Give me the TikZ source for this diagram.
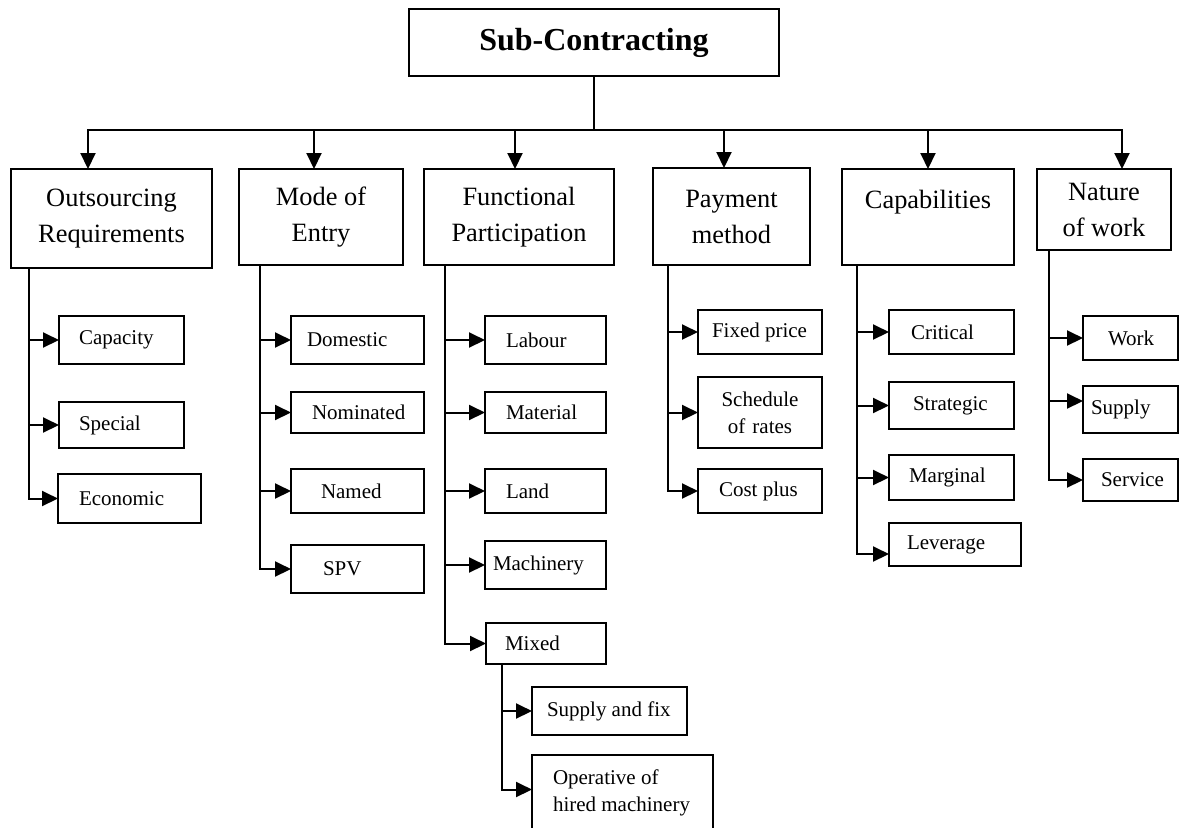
\documentclass[tikz,border=0pt]{standalone}
\usepackage{fontspec}
\setmainfont{Liberation Serif}
\usetikzlibrary{arrows.meta}
\tikzstyle{topbox} = [draw, line width=1pt, anchor=north west, outer sep=0pt, inner sep=0pt, align=center, font=\fontsize{13.2}{18}\selectfont]
\tikzstyle{leaf} = [draw, line width=1pt, anchor=north west, outer sep=0pt, inner sep=0pt, align=left, font=\fontsize{10.5}{13.5}\selectfont, execute at begin node={\spaceskip=0pt\xspaceskip=0pt\relax}]
\tikzstyle{line} = [draw, line width=1pt, line cap=rect]
\tikzstyle{arr} = [draw, line width=1pt, -{Triangle[length=8pt, width=7.5pt]}]
\tikzset{ind/.style={execute at begin node={\leftskip=#1\relax}}}

\begin{document}
\begin{tikzpicture}[x=0.5pt, y=-0.5pt]
			\useasboundingbox (0,0) rectangle (1179,827);
			% root and first level
			\node [topbox, font=\fontsize{16}{19}\selectfont\bfseries, minimum width=185pt, minimum height=33.5pt] (sub) at (409,9) {Sub-Contracting};
			\node [topbox, minimum width=100.5pt, minimum height=49.5pt] (outs) at (11,169) {Outsourcing\\Requirements};
			\node [topbox, minimum width=82pt, minimum height=48pt] (mode) at (239,169) {Mode of\\Entry};
			\node [topbox, minimum width=95pt, minimum height=48pt] (func) at (424,169) {Functional\\Participation};
			\node [topbox, minimum width=78.5pt, minimum height=48.5pt] (pay) at (653,168) {Payment\\method};
			\node [topbox, minimum width=86pt, minimum height=48pt] (capab) at (842,169) {Capabilities\\\mbox{}};
			\node [topbox, minimum width=67pt, minimum height=40.5pt] (nat) at (1037,169) {Nature\\of work};
			
			\coordinate (b1) at (88,130);
			\coordinate (b2) at (314,130);
			\coordinate (b3) at (515,130);
			\coordinate (b4) at (724,130);
			\coordinate (b5) at (928,130);
			\coordinate (b6) at (1122,130);
			
			\path [line, line width=0.8pt] (sub.south) -- (sub.south |- b1);
			\path [line] (b1) -- (b6);
			\path [arr] (b1) -- (b1 |- outs.north);
			\path [arr] (b2) -- (b2 |- mode.north);
			\path [arr] (b3) -- (b3 |- func.north);
			\path [arr] (b4) -- (b4 |- pay.north);
			\path [arr] (b5) -- (b5 |- capab.north);
			\path [arr] (b6) -- (b6 |- nat.north);
			
			% outsourcing requirements
			\node [leaf, text width=62.5pt, minimum height=24pt, ind=10pt] (cap) at (59,316) {Capacity};
			\node [leaf, text width=62.5pt, minimum height=23pt, ind=10pt] (spec) at (59,402) {Special};
			\node [leaf, text width=71.5pt, minimum height=24.5pt, ind=10.5pt] (econ) at (58,474) {Economic};
			
			\coordinate (t1) at (29,268);
			\path [arr] (t1) |- (econ.west);
			\path [arr] (t1 |- cap.west) -- (cap.west);
			\path [arr] (t1 |- spec.west) -- (spec.west);
			
			% mode of entry
			\node [leaf, text width=66.5pt, minimum height=24pt, ind=8pt] (dom) at (291,316) {Domestic};
			\node [leaf, text width=66.5pt, minimum height=20.5pt, ind=10.5pt] (nom) at (291,392) {Nominated};
			\node [leaf, text width=66.5pt, minimum height=22pt, ind=15pt] (named) at (291,469) {Named};
			\node [leaf, text width=66.5pt, minimum height=24pt, ind=16pt] (spv) at (291,545) {SPV};
			
			\coordinate (t2) at (260,265);
			\path [arr] (t2) |- (spv.west);
			\path [arr] (t2 |- dom.west) -- (dom.west);
			\path [arr] (t2 |- nom.west) -- (nom.west);
			\path [arr] (t2 |- named.west) -- (named.west);
			
			% functional participation
			\node [leaf, text width=60.5pt, minimum height=24pt, ind=10.5pt] (lab) at (485,316) {Labour};
			\node [leaf, text width=60.5pt, minimum height=20.5pt, ind=10.5pt] (mat) at (485,392) {Material};
			\node [leaf, text width=60.5pt, minimum height=22pt, ind=10.5pt] (land) at (485,469) {Land};
			\node [leaf, text width=60.5pt, minimum height=24pt, ind=4pt] (mach) at (485,541) {Machinery};
			\node [leaf, text width=60pt, minimum height=20.5pt, ind=9.5pt] (mix) at (486,623) {Mixed};
			\node [leaf, text width=77.5pt, minimum height=24pt, ind=7.5pt] (fix) at (532,687) {Supply and fix};
			\node [leaf, text width=90.5pt, minimum height=37.5pt, ind=10.5pt] (oper) at (532,755) {Operative of\\hired machinery};
			
			\coordinate (t3) at (445,265);
			\path [arr] (t3) |- (mix.west);
			\path [arr] (t3 |- lab.west) -- (lab.west);
			\path [arr] (t3 |- mat.west) -- (mat.west);
			\path [arr] (t3 |- land.west) -- (land.west);
			\path [arr] (t3 |- mach.west) -- (mach.west);
			
			\coordinate (t7) at (502,664);
			\path [arr] (t7) |- ([yshift=1.5pt]oper.west);
			\path [arr] (t7 |- fix.west) -- (fix.west);
			
			% payment method
			\node [leaf, text width=62pt, minimum height=22pt, ind=7pt] (fixp) at (698,310) {Fixed price};
			\node [leaf, text width=62pt, minimum height=35.5pt, align=center] (sched) at (698,377) {Schedule\\of rates};
			\node [leaf, text width=62pt, minimum height=22pt, ind=10.5pt] (cost) at (698,469) {Cost plus};
			
			\coordinate (t4) at (668,265);
			\path [arr] (t4) |- (cost.west);
			\path [arr] (t4 |- fixp.west) -- (fixp.west);
			\path [arr] (t4 |- sched.west) -- (sched.west);
			
			% capabilities
			\node [leaf, text width=62.5pt, minimum height=22pt, ind=11pt] (crit) at (889,310) {Critical};
			\node [leaf, text width=62.5pt, minimum height=23.5pt, ind=12pt] (strat) at (889,382) {Strategic};
			\node [leaf, text width=62.5pt, minimum height=22.5pt, ind=10pt] (marg) at (889,455) {Marginal};
			\node [leaf, text width=66pt, minimum height=21.5pt, ind=9pt] (lev) at (889,523) {Leverage};
			
			\coordinate (t5) at (857,265);
			\path [arr] (t5) |- ([yshift=-4.75pt]lev.west);
			\path [arr] (t5 |- crit.west) -- (crit.west);
			\path [arr] (t5 |- strat.west) -- (strat.west);
			\path [arr] (t5 |- marg.west) -- (marg.west);
			
			% nature of work
			\node [leaf, text width=47.5pt, minimum height=22pt, ind=12.5pt] (work) at (1083,316) {Work};
			\node [leaf, text width=47.5pt, minimum height=23.5pt, ind=4pt] (supp) at (1083,386) {Supply};
			\node [leaf, text width=47.5pt, minimum height=21pt, ind=9pt] (serv) at (1083,459) {Service};
			
			\coordinate (t6) at (1049,250);
			\path [arr] (t6) |- (serv.west);
			\path [arr] (t6 |- work.west) -- (work.west);
			\path [arr] ([yshift=4.25pt]t6 |- supp.west) -- ([yshift=4.25pt]supp.west);
		\end{tikzpicture}
\end{document}
